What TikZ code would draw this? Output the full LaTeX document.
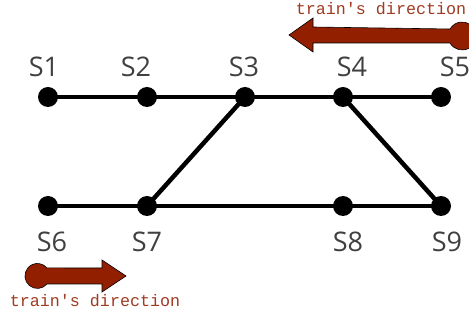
\documentclass[tikz,border=0pt]{standalone}
\usepackage{fontspec}
\setmainfont{Open Sans}
\newfontfamily\monofont{Liberation Mono}
\definecolor{trainred}{HTML}{922000}
\definecolor{textred}{HTML}{A03A22}
\definecolor{labelgray}{HTML}{404040}
\begin{document}
\begin{tikzpicture}[x=1pt,y=-1pt,
  station/.style={circle,fill=black,inner sep=0pt,minimum size=20pt},
  track/.style={line width=4.5pt},
  slabel/.style={text=labelgray,font=\fontsize{27}{30}\selectfont,inner sep=0pt,anchor=base},
  dirlabel/.style={text=textred,font=\monofont\fontsize{16.7}{18}\selectfont,inner sep=0pt,anchor=base},
  trainarrow/.style={fill=trainred,draw=black,line width=0.6pt,line join=miter}]
\useasboundingbox (0,0) rectangle (469,320);
% stations
\node[station] (s1) at (48,97) {};
\node[station] (s2) at (147,97) {};
\node[station] (s3) at (245,97) {};
\node[station] (s4) at (343,97) {};
\node[station] (s5) at (441,97) {};
\node[station] (s6) at (48,206) {};
\node[station] (s7) at (147,206) {};
\node[station] (s8) at (343,206) {};
\node[station] (s9) at (441,206) {};
% tracks
\draw[track] (s1.center) -- (s2.center) -- (s3.center) -- (s4.center) -- (s5.center);
\draw[track] (s6.center) -- (s7.center) -- (s8.center) -- (s9.center);
\draw[track] (s3.center) -- (s7.center);
\draw[track] (s4.center) -- (s9.center);
% labels
\node[slabel] (l1) at (44,77) {S1};
\node[slabel] (l2) at (136,77) {S2};
\node[slabel] (l3) at (244,77) {S3};
\node[slabel] (l4) at (352,77) {S4};
\node[slabel] (l5) at (455,77) {S5};
\node[slabel] (l6) at (52,252) {S6};
\node[slabel] (l7) at (147,252) {S7};
\node[slabel] (l8) at (348,252) {S8};
\node[slabel] (l9) at (447,252) {S9};
% direction arrows
\draw[trainarrow] (313,27) -- (313,18) -- (289,35) -- (313,52) -- (313,43) -- (450,43)
  arc[start angle=-150,end angle=150,radius=14pt,x radius=14,y radius=-14] -- cycle;
\draw[trainarrow] (102,268) -- (102,260) -- (126,276) -- (102,292) -- (102,284) -- (47,284)
  arc[start angle=-40,end angle=-320,x radius=12.5,y radius=-12.5] -- cycle;
\node[dirlabel] (d1) at (381,15) {train's direction};
\node[dirlabel] (d2) at (95,307) {train's direction};
\end{tikzpicture}
\end{document}
